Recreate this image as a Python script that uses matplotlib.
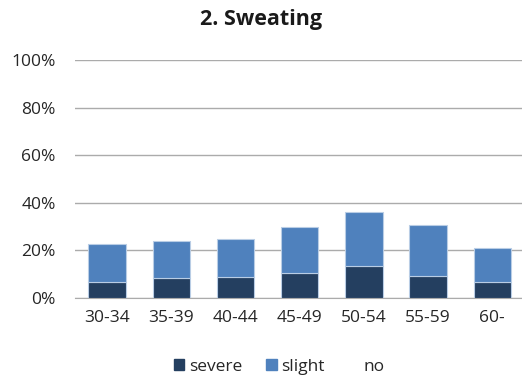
import matplotlib.pyplot as plt
from matplotlib.patches import Patch
from matplotlib.ticker import PercentFormatter

plt.rcParams['font.family'] = ['Open Sans', 'DejaVu Sans']

# age groups and share of answers (%)
age_groups = ['30-34', '35-39', '40-44', '45-49', '50-54', '55-59', '60-']
severe = [6.8, 8.3, 9.0, 10.6, 13.6, 9.4, 6.8]
slight = [15.9, 15.7, 15.8, 19.4, 22.7, 21.1, 14.3]

c_severe = '#243F60'
c_slight = '#4F81BD'
edge = '#B9CDE5'

fig = plt.figure(figsize=(5.22, 3.78), dpi=100)
ax = fig.add_axes([75/522, 80/378, 449.4/522, 238/378])

x = range(len(age_groups))
ax.bar(x, severe, width=0.58, color=c_severe, edgecolor=edge, linewidth=0.8, zorder=3)
ax.bar(x, slight, width=0.58, bottom=severe, color=c_slight, edgecolor=edge,
       linewidth=0.8, zorder=3)

ax.set_xlim(-0.5, len(age_groups) - 0.5)
ax.set_ylim(0, 100)
ax.set_yticks(range(0, 101, 20))
ax.yaxis.set_major_formatter(PercentFormatter(decimals=0))
ax.set_xticks(list(x))
ax.set_xticklabels(age_groups)
ax.grid(axis='y', color='#ABABAB', linewidth=1, zorder=0)
for s in ['top', 'right', 'left']:
    ax.spines[s].set_visible(False)
ax.spines['bottom'].set_color('#ABABAB')
ax.tick_params(length=0, labelsize=12.5, colors='#262626')
ax.tick_params(axis='x', pad=9)
ax.tick_params(axis='y', pad=14)

fig.text(0.5, 1 - 20/378, '2. Sweating', ha='center', va='center',
         fontsize=15.5, fontweight='bold', color='#1a1a1a')

handles = [Patch(color=c_severe), Patch(color=c_slight), Patch(color='white')]
fig.legend(handles, ['severe', 'slight', 'no'], loc='center', ncol=3,
           bbox_to_anchor=(0.535, 1 - 367/378), frameon=False, fontsize=12.5,
           handlelength=0.6, handleheight=0.6, handletextpad=0.25,
           columnspacing=1.4, labelcolor='#262626')

fig.savefig('out.png', dpi=100)
